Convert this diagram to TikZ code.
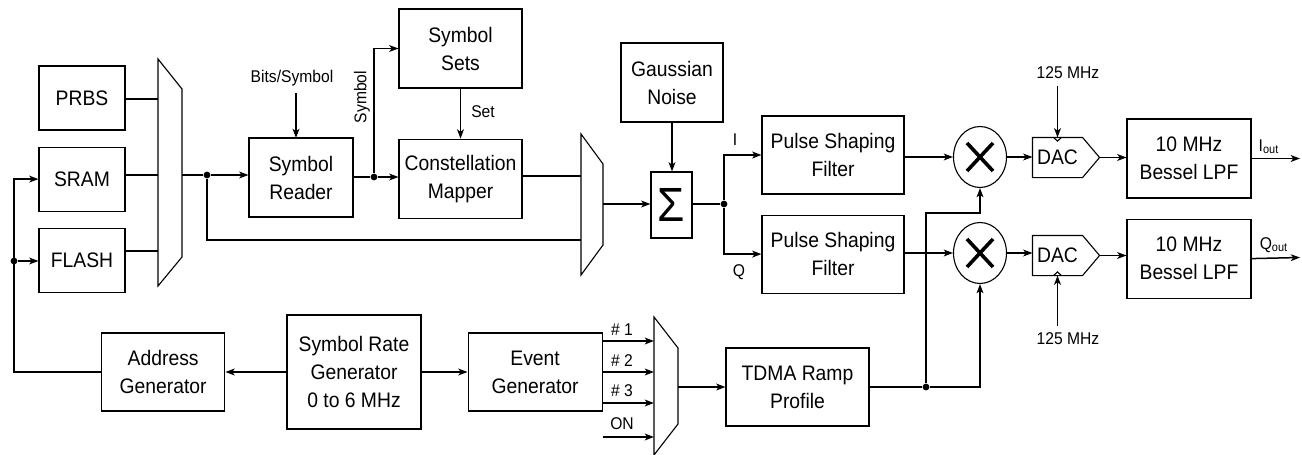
\documentclass[tikz,border=0pt]{standalone}
\usepackage{fontspec}
\setmainfont{Liberation Sans}[FakeStretch=0.92]
\usepackage{tikz}
\usetikzlibrary{positioning,arrows.meta,shapes.geometric}

\tikzset{
  blk/.style={draw, line width=0.55pt, inner sep=0pt, align=center, font=\fontsize{10.5}{14}\selectfont},
  lbl/.style={inner sep=0pt, font=\fontsize{8.5}{10}\selectfont},
  clk/.style={lbl, inner ysep=3.5pt},
  dot/.style={circle, fill, inner sep=0pt, minimum size=3.4pt},
  wire/.style={line width=0.75pt},
  mixer/.style={draw, ellipse, line width=0.55pt, inner sep=0pt, minimum width=26.5pt, minimum height=30.5pt},
}

\begin{document}
\begin{tikzpicture}[x=0.5pt, y=-0.5pt, >={Stealth[length=4.6pt,width=3.4pt,inset=1.2pt]}]
\useasboundingbox (0,0) rectangle (1302,455);

% memories and source mux
\node[blk, minimum width=43pt, minimum height=32pt] (prbs) at (82,98) {PRBS};
\node[blk, minimum width=43pt, minimum height=32pt, below=8pt of prbs] (sram) {SRAM};
\node[blk, minimum width=43pt, minimum height=32pt, below=8pt of sram] (flash) {FLASH};
\draw[line width=0.55pt] (158,59) -- (182,89) -- (182,257) -- (158,286) -- cycle;
\coordinate (m1a) at (158,99);
\coordinate (m1b) at (158,175);
\coordinate (m1c) at (158,251);
\coordinate (m1o) at (182,175);

% symbol path
\node[blk, minimum width=52pt, minimum height=39.5pt] (reader) at (301,177.5) {Symbol\\Reader};
\node[blk, minimum width=61.5pt, minimum height=39.5pt] (sets) at (460.5,48.5) {Symbol\\Sets};
\node[blk, minimum width=61.5pt, minimum height=39.5pt, below=25pt of sets] (mapper) {Constellation\\Mapper};
\node[clk] (bits) at (292,78) {Bits/Symbol};
\node[lbl, rotate=90] (symlbl) at (362,97) {Symbol};
\node[lbl] (setlbl) at (483,112) {Set};
\draw[line width=0.55pt] (581,134) -- (603,164) -- (603,245) -- (581,275) -- cycle;
\coordinate (m2a) at (581,176);
\coordinate (m2b) at (581,240);
\coordinate (m2o) at (603,204);

% noise and I/Q split
\node[blk, minimum width=51pt, minimum height=39.5pt] (noise) at (672,82.5) {Gaussian\\Noise};
\node[blk, minimum width=20.5pt, minimum height=33pt, font=\fontsize{24}{24}\selectfont] (sigma) at (671.5,205) {Σ};
\node[blk, minimum width=71pt, minimum height=39pt] (psf1) at (833,155) {Pulse Shaping\\Filter};
\node[blk, minimum width=71pt, minimum height=39pt, below=10pt of psf1] (psf2) {Pulse Shaping\\Filter};
\node[lbl] (ilbl) at (735,140) {I};
\node[lbl] (qlbl) at (739,272) {Q};

% mixers, DACs and filters
\node[mixer] (mix1) at (980,157) {};
\node[mixer] (mix2) at (980,253) {};
\draw[line width=1.8pt] ([shift={(-6.5pt,7pt)}]mix1.center) -- ([shift={(6.5pt,-7pt)}]mix1.center);
\draw[line width=1.8pt] ([shift={(-6.5pt,-7pt)}]mix1.center) -- ([shift={(6.5pt,7pt)}]mix1.center);
\draw[line width=1.8pt] ([shift={(-6.5pt,7pt)}]mix2.center) -- ([shift={(6.5pt,-7pt)}]mix2.center);
\draw[line width=1.8pt] ([shift={(-6.5pt,-7pt)}]mix2.center) -- ([shift={(6.5pt,7pt)}]mix2.center);
\node[blk, draw=none, minimum width=24.5pt, minimum height=19.5pt] (dac1) at (1057.5,157.5) {DAC};
\node[blk, draw=none, minimum width=24.5pt, minimum height=19.5pt] (dac2) at (1057.5,255.5) {DAC};
\draw[line width=0.55pt] (dac1.north west) -- (dac1.north east) -- ([xshift=8.5pt]dac1.east) coordinate (dac1tip) -- (dac1.south east) -- (dac1.south west) -- cycle;
\draw[line width=0.55pt] (dac2.north west) -- (dac2.north east) -- ([xshift=8.5pt]dac2.east) coordinate (dac2tip) -- (dac2.south east) -- (dac2.south west) -- cycle;
\draw[line width=0.55pt] ([xshift=-2pt]dac1.north) -- ([yshift=-1.8pt]dac1.north) -- ([xshift=2pt]dac1.north);
\draw[line width=0.55pt] ([xshift=-2pt]dac2.south) -- ([yshift=1.8pt]dac2.south) -- ([xshift=2pt]dac2.south);
\node[clk] (clk1) at (1068,73) {125 MHz};
\node[clk] (clk2) at (1068,339) {125 MHz};
\node[blk, minimum width=62pt, minimum height=39.5pt] (lpf1) at (1189,158.5) {10 MHz\\Bessel LPF};
\node[blk, minimum width=62pt, minimum height=39.5pt, below=10pt of lpf1] (lpf2) {10 MHz\\Bessel LPF};
\node[lbl] (iout) at (1269,147) {I\textsubscript{out}};
\node[lbl] (qout) at (1274,245) {Q\textsubscript{out}};
\coordinate (iend) at (1300,158.5);
\coordinate (qend) at (1300,257.5);

% timing row
\node[blk, minimum width=67pt, minimum height=57pt] (srg) at (354,372) {Symbol Rate\\Generator\\0 to 6 MHz};
\node[blk, minimum width=61.75pt, minimum height=39pt, left=30.5pt of srg] (addr) {Address\\Generator};
\node[blk, minimum width=67pt, minimum height=39pt, right=23pt of srg] (event) {Event\\Generator};
\draw[line width=0.55pt] (654,317) -- (678,348) -- (678,424) -- (654,455) -- cycle;
\coordinate (m3a) at (654,341);
\coordinate (m3b) at (654,372);
\coordinate (m3c) at (654,403);
\coordinate (m3d) at (654,437);
\coordinate (m3o) at (678,387);
\node[lbl] (ev1) at (622,330) {\# 1};
\node[lbl] (ev2) at (622,361) {\# 2};
\node[lbl] (ev3) at (622,391) {\# 3};
\node[lbl] (evon) at (622,424) {ON};
\node[blk, minimum width=71.5pt, minimum height=39pt] (tdma) at (797.5,387) {TDMA Ramp\\Profile};

% junctions
\node[dot] (j0) at (14,261) {};
\node[dot] (j1) at (207,175) {};
\node[dot] (j2) at (374,177) {};
\node[dot] (j3) at (724,204) {};
\node[dot] (j4) at (926,387) {};
\coordinate (k0) at (14,372);
\coordinate (k1) at (926,213);

% connections
\draw[wire] (prbs.east |- m1a) -- (m1a);
\draw[wire] (sram.east |- m1b) -- (m1b);
\draw[wire] (flash.east |- m1c) -- (m1c);
\draw[wire] (m1o) -- (j1);
\draw[wire, ->] (j1) -- (j1 -| reader.west);
\draw[wire] (j1) |- (m2b);
\draw[wire, ->] (bits.south -| 296,0) -- (296,138);
\draw[wire] (reader.east |- j2) -- (j2);
\draw[wire, ->] (j2) -- (j2 -| mapper.west);
\draw[wire, ->] (j2) |- (sets.west);
\draw[wire, ->] (sets) -- (mapper);
\draw[wire] (mapper.east |- m2a) -- (m2a);
\draw[wire, ->] (m2o) -- (m2o -| sigma.west);
\draw[wire, ->] (noise.south) -- (noise.south |- sigma.north);
\draw[wire] (sigma.east |- j3) -- (j3);
\draw[wire, ->] (j3) |- (psf1.west);
\draw[wire, ->] (j3) |- (psf2.west);
\draw[wire, ->] (psf1.east |- mix1) -- (mix1.west);
\draw[wire, ->] (psf2.east |- mix2) -- (mix2.west);
\draw[wire, ->] (mix1.east) -- (mix1.east -| dac1.west);
\draw[wire, ->] (mix2.east) -- (mix2.east -| dac2.west);
\draw[wire, ->] (clk1.south -| dac1.north) -- (dac1.north);
\draw[wire, ->] (clk2.north -| dac2.south) -- (dac2.south);
\draw[wire, ->] (dac1tip) -- (dac1tip -| lpf1.west);
\draw[wire, ->] (dac2tip) -- (dac2tip -| lpf2.west);
\draw[wire, ->] (lpf1.east) -- (iend);
\draw[wire, ->] (lpf2.east) -- (qend);
\draw[wire, ->] (srg) -- (addr);
\draw[wire, ->] (srg) -- (event);
\draw[wire, ->] (addr.west) -- (k0) |- (sram.west);
\draw[wire, ->] (j0) -- (flash.west |- j0);
\draw[wire, ->] (event.east |- m3a) -- (m3a);
\draw[wire, ->] (event.east |- m3b) -- (m3b);
\draw[wire, ->] (event.east |- m3c) -- (m3c);
\draw[wire, ->] (event.east |- m3d) -- (m3d);
\draw[wire, ->] (m3o) -- (m3o -| tdma.west);
\draw[wire] (tdma.east) -- (j4);
\draw[wire, ->] (j4) -| (mix2.south);
\draw[wire, ->] (j4) -- (k1) -| (mix1.south);
\end{tikzpicture}
\end{document}
